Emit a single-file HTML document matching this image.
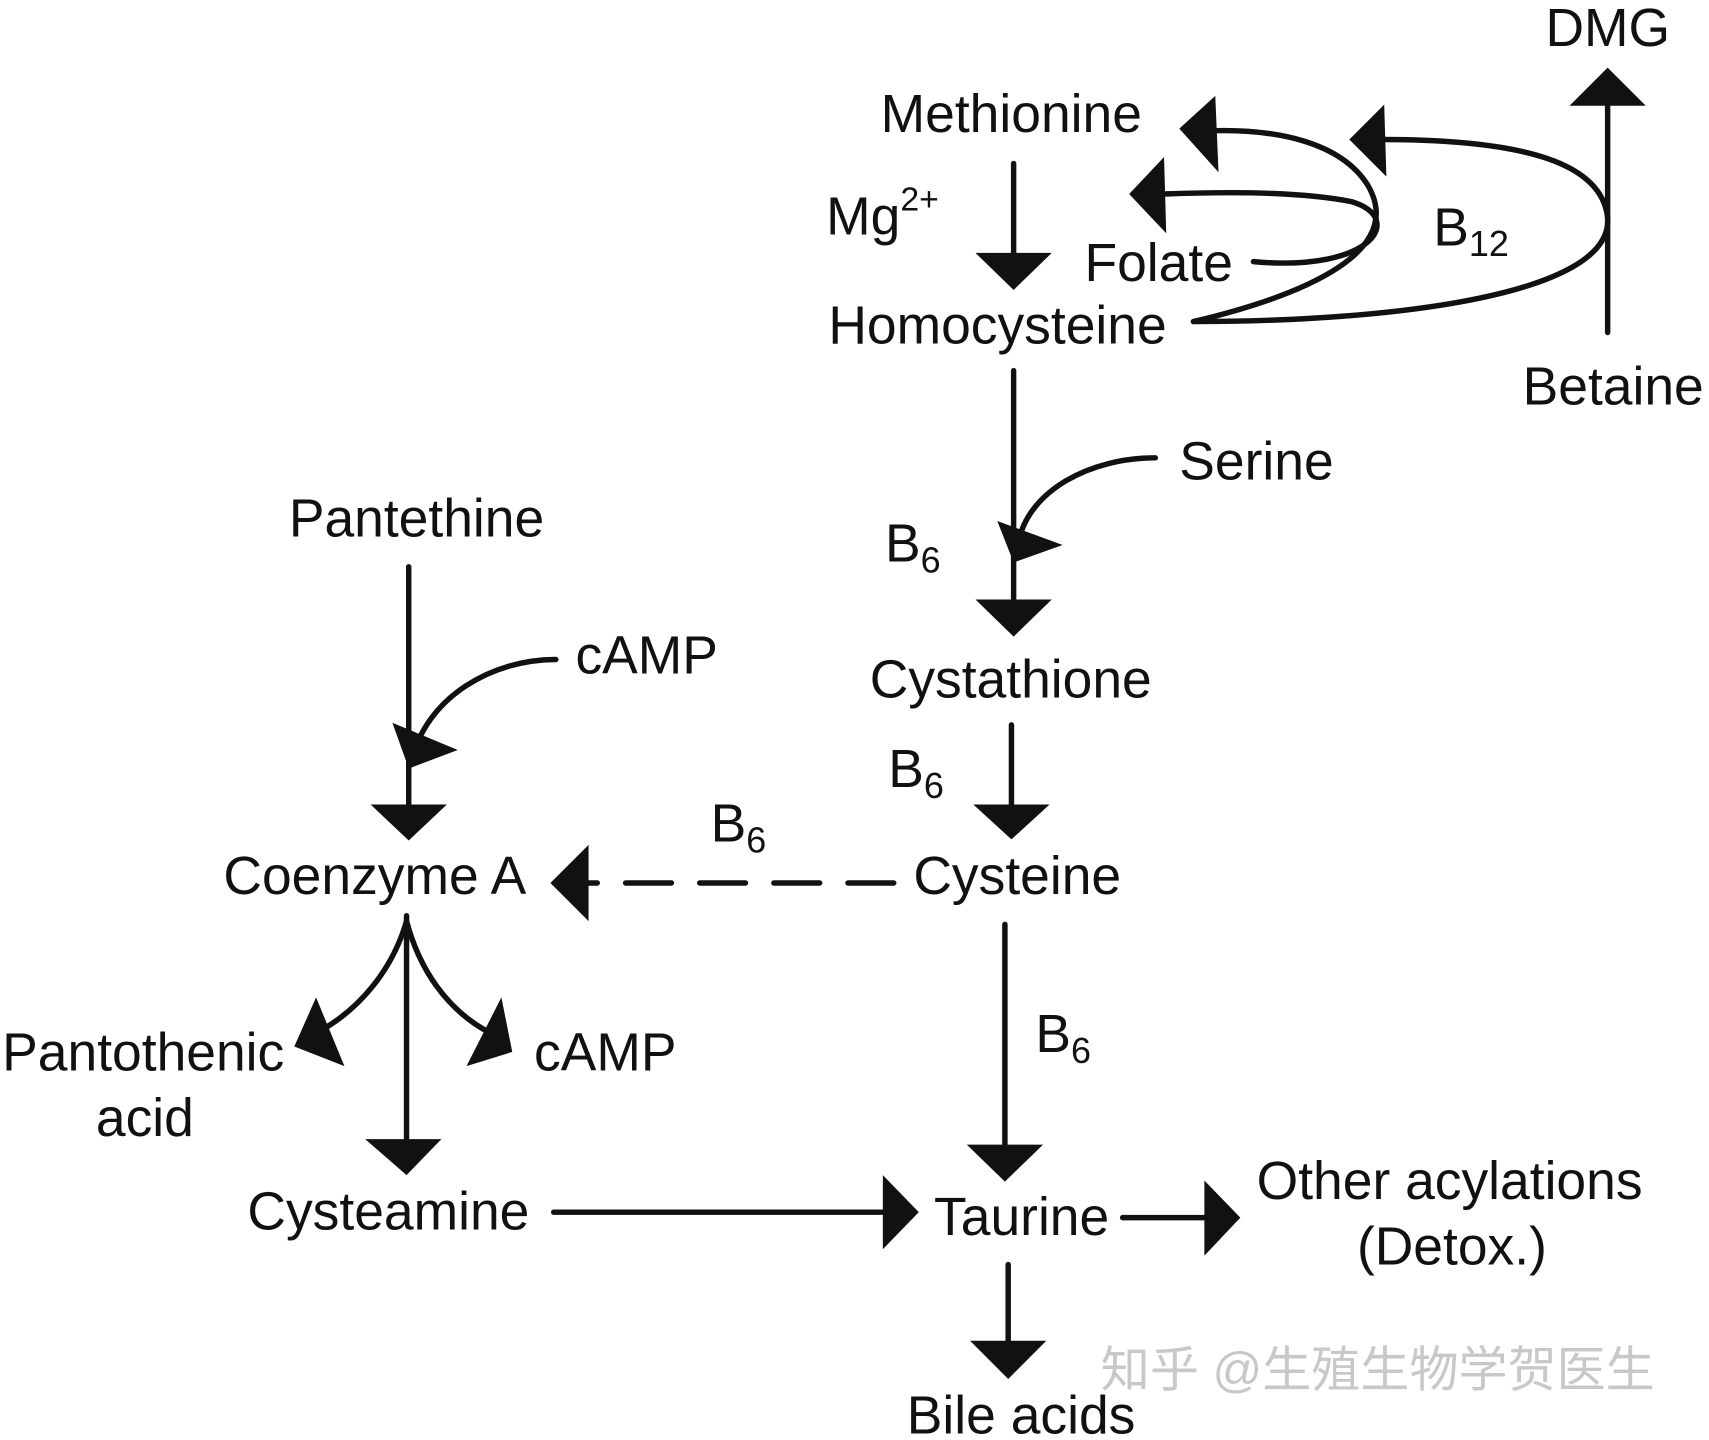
<!DOCTYPE html>
<html><head><meta charset="utf-8"><style>
html,body{margin:0;padding:0;background:#fff;}
svg{display:block;}
text{font-family:"Liberation Sans",Arial,sans-serif;font-size:49px;fill:#111;}
</style></head><body>
<svg width="1709" height="1440" viewBox="0 0 1568 1321" preserveAspectRatio="none" xmlns="http://www.w3.org/2000/svg">
<g stroke="#111" stroke-width="5" fill="none" stroke-linecap="round">
<line x1="1475" y1="305" x2="1475" y2="95"/>
<line x1="930" y1="150" x2="930" y2="232"/>
<path d="M1095,295 C1200,270 1290,230 1255,170 C1230,130 1170,118 1110,120"/>
<path d="M1150,240 C1260,250 1290,200 1240,185 C1190,175 1120,176 1068,178"/>
<path d="M1095,295 C1280,295 1480,270 1475,200 C1470,150 1400,128 1268,128"/>
<line x1="930" y1="340" x2="930" y2="550"/>
<path d="M1060,420 C1000,420 945,450 935,495"/>
<line x1="928" y1="665" x2="928" y2="740"/>
<line x1="820" y1="810" x2="540" y2="810" stroke-dasharray="42,26"/>
<line x1="375" y1="520" x2="375" y2="740"/>
<path d="M510,605 C450,605 395,640 380,690"/>
<line x1="373" y1="840" x2="373" y2="1045"/>
<path d="M373,845 C360,890 330,925 295,945"/>
<path d="M373,845 C385,890 410,925 445,945"/>
<line x1="508" y1="1112" x2="810" y2="1112"/>
<line x1="922" y1="848" x2="922" y2="1052"/>
<line x1="1030" y1="1117" x2="1105" y2="1117"/>
<line x1="925" y1="1160" x2="925" y2="1232"/>
</g>
<g fill="#111">
<polygon points="1475,62 1440,97 1510,97"/>
<polygon points="930,266 895,232 965,232"/>
<polygon points="1082,118 1115,88 1118,158"/>
<polygon points="1036,178 1068,144 1070,214"/>
<polygon points="1238,128 1270,96 1272,162"/>
<polygon points="930,584 895,550 965,550"/>
<polygon points="915,478 975,500 930,516"/>
<polygon points="928,770 893,738 963,738"/>
<polygon points="505,810 540,775 540,845"/>
<polygon points="375,771 340,738 410,738"/>
<polygon points="360,663 420,688 375,705"/>
<polygon points="373,1078 335,1045 405,1045"/>
<polygon points="270,960 290,915 316,978"/>
<polygon points="470,965 428,978 460,915"/>
<polygon points="843,1112 810,1078 810,1146"/>
<polygon points="922,1084 887,1050 957,1050"/>
<polygon points="1138,1117 1105,1083 1105,1152"/>
<polygon points="925,1265 890,1230 960,1230"/>
</g>
<text x="1418" y="42">DMG</text>
<text x="808" y="121">Methionine</text>
<text x="758" y="215">Mg<tspan font-size="31" dy="-22">2+</tspan></text>
<text x="995" y="258">Folate</text>
<text x="1315" y="225">B<tspan font-size="33" dy="10">12</tspan></text>
<text x="760" y="315">Homocysteine</text>
<text x="1397" y="371">Betaine</text>
<text x="1082" y="440">Serine</text>
<text x="812" y="515">B<tspan font-size="33" dy="10">6</tspan></text>
<text x="265" y="492">Pantethine</text>
<text x="528" y="618">cAMP</text>
<text x="798" y="640">Cystathione</text>
<text x="815" y="722">B<tspan font-size="33" dy="10">6</tspan></text>
<text x="652" y="772">B<tspan font-size="33" dy="10">6</tspan></text>
<text x="205" y="820">Coenzyme A</text>
<text x="838" y="820">Cysteine</text>
<text x="950" y="965">B<tspan font-size="33" dy="10">6</tspan></text>
<text x="2" y="982">Pantothenic</text>
<text x="88" y="1042">acid</text>
<text x="490" y="982">cAMP</text>
<text x="227" y="1128">Cysteamine</text>
<text x="857" y="1133">Taurine</text>
<text x="1153" y="1100">Other acylations</text>
<text x="1245" y="1160">(Detox.)</text>
<text x="832" y="1315">Bile acids</text>
<text x="1010" y="1272" style="font-family:'Liberation Sans','Noto Sans CJK SC',sans-serif;font-size:45px;fill:#c8c8c8;">知乎 @生殖生物学贺医生</text>
</svg>
</body></html>
